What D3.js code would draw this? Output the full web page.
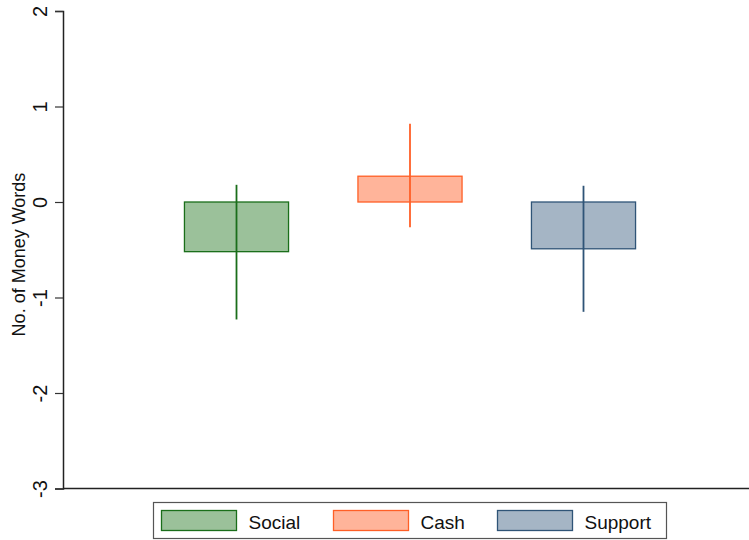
<!DOCTYPE html>
<html>
<head>
<meta charset="utf-8">
<script src="https://cdn.jsdelivr.net/npm/d3@7"></script>
<style>
  html, body { margin: 0; padding: 0; background: #fff; }
  svg { display: block; font-family: "Liberation Sans", Arial, Helvetica, sans-serif; }
</style>
</head>
<body>
<svg id="chart" width="749" height="540"></svg>
<script>
// Mean number of money words by treatment, with confidence intervals
const categories = ["Social", "Cash", "Support"];
const means = [-0.52, 0.27, -0.49];
const ciLow = [-1.23, -0.265, -1.15];
const ciHigh = [0.18, 0.82, 0.17];
const yTicks = [-3, -2, -1, 0, 1, 2];

const fills = ["#9bc19a", "#ffb49a", "#a5b5c5"];
const strokes = ["#1a6e1a", "#ff5f26", "#2f5477"];

const svg = d3.select("#chart");
const W = 749, H = 540;
const plot = { left: 63, right: 757, top: 11, bottom: 488.5 };

const y = d3.scaleLinear().domain([-3, 2]).range([plot.bottom, plot.top]);
const x = d3.scaleLinear().domain([0, categories.length + 1]).range([plot.left, plot.right]);
const barW = 0.6;

// bars from zero to the mean
const g = svg.append("g");
g.selectAll("rect.bar")
  .data(categories)
  .join("rect")
  .attr("class", "bar")
  .attr("x", (d, i) => x(i + 1 - barW / 2))
  .attr("width", (d, i) => x(i + 1 + barW / 2) - x(i + 1 - barW / 2))
  .attr("y", (d, i) => y(Math.max(0, means[i])))
  .attr("height", (d, i) => Math.abs(y(means[i]) - y(0)))
  .attr("fill", (d, i) => fills[i])
  .attr("stroke", (d, i) => strokes[i])
  .attr("stroke-width", 1.3);

// confidence interval spikes
g.selectAll("line.ci")
  .data(categories)
  .join("line")
  .attr("class", "ci")
  .attr("x1", (d, i) => x(i + 1))
  .attr("x2", (d, i) => x(i + 1))
  .attr("y1", (d, i) => y(ciLow[i]))
  .attr("y2", (d, i) => y(ciHigh[i]))
  .attr("stroke", (d, i) => strokes[i])
  .attr("stroke-width", 1.8);

// y axis
const yAxis = svg.append("g")
  .attr("transform", `translate(${plot.left},0)`)
  .call(d3.axisLeft(y).tickValues(yTicks).tickSize(8).tickFormat(d => String(d)));
yAxis.select(".domain").attr("stroke", "#222").attr("stroke-width", 1.5);
yAxis.selectAll(".tick line").attr("stroke", "#333").attr("stroke-width", 1.2);
yAxis.selectAll(".tick text")
  .attr("font-size", 20)
  .attr("fill", "#111")
  .attr("x", null).attr("dy", null)
  .attr("text-anchor", "middle")
  .attr("transform", "translate(-16,0) rotate(-90)");

// x axis baseline
svg.append("line")
  .attr("x1", plot.left).attr("x2", W)
  .attr("y1", plot.bottom).attr("y2", plot.bottom)
  .attr("stroke", "#222").attr("stroke-width", 1.5);

// y axis title
svg.append("text")
  .attr("transform", `translate(25,${(y(-1.4) + y(0.3)) / 2}) rotate(-90)`)
  .attr("text-anchor", "middle")
  .attr("font-size", 18)
  .attr("fill", "#111")
  .text("No. of Money Words");

// legend
const legend = svg.append("g").attr("transform", "translate(153.5,502.5)");
legend.append("rect")
  .attr("width", 513).attr("height", 36)
  .attr("fill", "#fff").attr("stroke", "#555").attr("stroke-width", 1.2);
const itemX = [8, 180, 344];
const item = legend.selectAll("g.item")
  .data(categories)
  .join("g")
  .attr("class", "item")
  .attr("transform", (d, i) => `translate(${itemX[i]},0)`);
item.append("rect")
  .attr("y", 8).attr("width", 75).attr("height", 20)
  .attr("fill", (d, i) => fills[i])
  .attr("stroke", (d, i) => strokes[i])
  .attr("stroke-width", 1.3);
item.append("text")
  .attr("x", 87).attr("y", 26)
  .attr("font-size", 19)
  .attr("fill", "#111")
  .text(d => d);
</script>
</body>
</html>
